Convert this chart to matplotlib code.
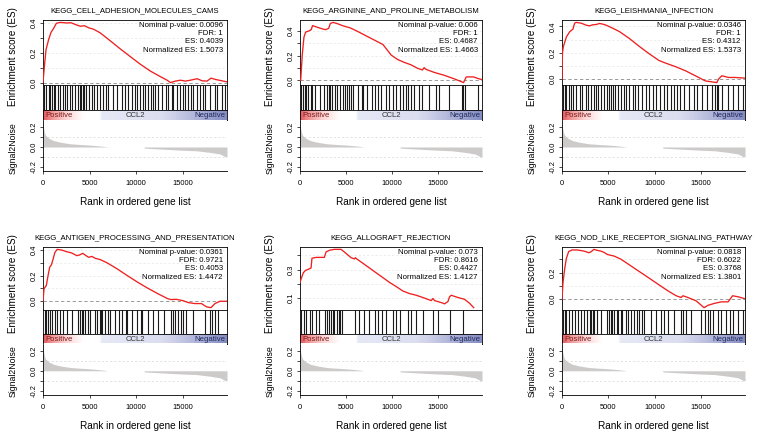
import numpy as np
import matplotlib
matplotlib.use("Agg")
from matplotlib import pyplot as plt
from matplotlib.colors import LinearSegmentedColormap

plt.rcParams['font.family'] = ['Liberation Sans', 'DejaVu Sans']

# ---- data ----
n_genes = 19750

titles = ["KEGG_CELL_ADHESION_MOLECULES_CAMS",
          "KEGG_ARGININE_AND_PROLINE_METABOLISM",
          "KEGG_LEISHMANIA_INFECTION",
          "KEGG_ANTIGEN_PROCESSING_AND_PRESENTATION",
          "KEGG_ALLOGRAFT_REJECTION",
          "KEGG_NOD_LIKE_RECEPTOR_SIGNALING_PATHWAY"]
pvals = ["0.0096", "0.006", "0.0346", "0.0361", "0.073", "0.0818"]
fdrs = ["1", "1", "1", "0.9721", "0.8616", "0.6022"]
es_vals = ["0.4039", "0.4687", "0.4312", "0.4053", "0.4427", "0.3768"]
nes_vals = ["1.5073", "1.4663", "1.5373", "1.4472", "1.4127", "1.3801"]

# running enrichment score (rank, ES)
es_rank_1 = [0, 143, 322, 610, 860, 1150, 1430, 1860, 2580, 3000, 3470, 4010, 4440, 4900, 5440, 6160,
             7230, 8300, 9380, 10450, 11530, 12600, 13320, 13680, 14210, 14750, 15290, 15820, 16540,
             17080, 17610, 18040, 18510, 19050, 19750]
es_score_1 = [0, 0.105, 0.22, 0.29, 0.337, 0.365, 0.398, 0.404, 0.40, 0.402, 0.39, 0.378, 0.382, 0.368,
              0.358, 0.333, 0.28, 0.226, 0.174, 0.123, 0.077, 0.04, 0.016, 0.0, 0.01, 0.016, 0.01, 0.016,
              0.026, 0.012, 0.01, 0.03, 0.021, 0.014, 0.005]

es_rank_2 = [0, 75, 250, 430, 610, 970, 1220, 1360, 1860, 2400, 2750, 3110, 3290, 3580, 4000, 4710, 5430,
             6140, 7570, 9000, 9900, 10610, 11330, 12040, 12750, 13290, 13470, 13650, 14540, 15610, 16680,
             17750, 18040, 18820, 19360, 19750]
es_score_2 = [0, 0.0, 0.21, 0.35, 0.39, 0.40, 0.41, 0.443, 0.43, 0.417, 0.41, 0.42, 0.46, 0.4687, 0.46, 0.44,
              0.425, 0.40, 0.345, 0.29, 0.204, 0.168, 0.145, 0.126, 0.098, 0.084, 0.103, 0.09, 0.065, 0.042,
              0.014, -0.018, 0.028, 0.028, 0.014, 0.006]

es_rank_3 = [0, 50, 140, 470, 830, 1180, 1360, 1540, 2080, 2610, 2970, 3330, 3690, 4040, 4400, 4760, 5470,
             6180, 7250, 8320, 9390, 10460, 11180, 12250, 13320, 14390, 15460, 16710, 16890, 17250, 17960,
             18670, 19750]
es_score_3 = [0, 0.2, 0.245, 0.32, 0.36, 0.38, 0.425, 0.431, 0.425, 0.41, 0.405, 0.413, 0.415, 0.423, 0.418,
              0.41, 0.387, 0.362, 0.31, 0.25, 0.194, 0.142, 0.122, 0.095, 0.064, 0.026, -0.013, -0.026, 0.0,
              0.026, 0.013, 0.013, 0.008]

es_rank_4 = [0, 110, 360, 540, 720, 900, 1090, 1270, 1520, 1990, 2530, 3080, 3620, 3910, 4270, 4520, 4890,
             5250, 5610, 6150, 6880, 7960, 9050, 10130, 11220, 12300, 13390, 13760, 14300, 15020, 15570,
             16290, 17010, 17560, 18030, 18460, 19000, 19750]
es_score_4 = [0, 0.098, 0.124, 0.2, 0.266, 0.284, 0.33, 0.38, 0.4053, 0.40, 0.387, 0.377, 0.356, 0.361, 0.374,
              0.361, 0.343, 0.35, 0.335, 0.325, 0.3, 0.253, 0.2, 0.15, 0.103, 0.06, 0.02, 0.013, 0.015, 0.005,
              -0.01, -0.018, -0.018, -0.044, -0.05, -0.018, 0.0, 0.0]

es_rank_5 = [0, 110, 360, 580, 1010, 1200, 1300, 1740, 2100, 2640, 2830, 3190, 3730, 4280, 4460, 5000, 5540,
             5910, 6010, 6160, 6810, 7540, 8260, 8990, 9710, 10430, 11160, 11880, 12610, 13330, 14240, 14420,
             14600, 15330, 15690, 16050, 16230, 16410, 17140, 17860, 18400, 18850]
es_score_5 = [0.209, 0.232, 0.277, 0.293, 0.305, 0.311, 0.38, 0.386, 0.386, 0.386, 0.425, 0.436, 0.443, 0.4427,
              0.443, 0.414, 0.384, 0.375, 0.384, 0.375, 0.345, 0.311, 0.277, 0.243, 0.209, 0.18, 0.148, 0.13,
              0.118, 0.102, 0.08, 0.095, 0.08, 0.066, 0.057, 0.073, 0.107, 0.118, 0.102, 0.089, 0.061, 0.03]

es_rank_6 = [0, 110, 290, 470, 720, 1090, 1630, 2350, 2900, 3150, 3440, 3800, 4170, 4530, 4890, 5620, 6340,
             7070, 8150, 9240, 10330, 11410, 12320, 12860, 13040, 13590, 14490, 15330, 15760, 16480, 17210,
             17930, 18410, 19020, 19670]
es_score_6 = [0, 0.128, 0.23, 0.308, 0.36, 0.372, 0.372, 0.364, 0.351, 0.359, 0.3768, 0.369, 0.364, 0.354,
              0.338, 0.326, 0.303, 0.269, 0.218, 0.167, 0.115, 0.064, 0.026, 0.013, 0.026, 0.013, -0.013,
              -0.064, -0.046, -0.031, -0.02, -0.02, 0.026, 0.018, 0.005]

# positions of the gene-set members in the ranked list
hits_1 = [64, 354, 600, 782, 964, 1135, 1320, 1560, 1850, 2140, 2390, 2570, 2850, 3110, 3460, 3810, 4000,
          4120, 4240, 4360, 4640, 4890, 5250, 5500, 5790, 6140, 6430, 6780, 7030, 7500, 7930, 8460, 8820,
          9170, 9530, 9890, 10130, 10420, 10710, 10960, 11310, 11570, 11780, 12030, 12380, 12750, 13210,
          13450, 13820, 13990, 14350, 14710, 15060, 15240, 15600, 15850, 16130, 16500, 16850, 17140, 17390,
          17920, 18460, 18710, 19180, 19550]
hits_2 = [75, 364, 500, 685, 857, 1220, 1330, 1680, 2220, 2570, 2930, 3150, 3290, 3470, 3820, 4000, 4360,
          4710, 4900, 5070, 5350, 5540, 5790, 6320, 6680, 6850, 7280, 7760, 8110, 8460, 8830, 9360, 9710,
          10070, 10420, 10850, 11140, 11500, 11670, 12030, 12390, 12920, 13280, 14000, 14710, 15070, 16140,
          17560, 17740, 17920, 19350]
hits_3 = [111, 290, 468, 754, 1000, 1180, 1540, 1900, 2180, 2540, 2790, 3150, 3500, 3680, 3860, 4220, 4570,
          4820, 5040, 5290, 5540, 5750, 6000, 6360, 6710, 6960, 7250, 7610, 7890, 8250, 8610, 9040, 9390,
          9820, 10180, 10540, 11000, 11360, 11710, 12070, 12430, 12780, 13140, 13680, 14210, 14570, 15100,
          15640, 16180, 16530, 16710, 16890, 17250, 17960, 18500, 19030, 19570]
hits_4 = [181, 362, 543, 724, 1010, 1270, 1450, 1810, 2170, 2530, 3080, 3800, 3980, 4160, 4340, 4530, 4780,
          5000, 5610, 5790, 6150, 6230, 6340, 6700, 6950, 7240, 7780, 8150, 8510, 8870, 9050, 9590, 10140,
          10500, 10680, 11220, 11760, 12310, 13030, 13750, 13940, 14120, 14480, 14840, 15020, 15380, 16110,
          17380, 17920, 18100, 18460, 18820]
hits_5 = [109, 471, 652, 1120, 1300, 1740, 2100, 2750, 2900, 3190, 3370, 3550, 3730, 3990, 4200, 4350, 4570,
          6010, 6450, 6990, 7540, 8190, 8440, 8910, 9350, 10070, 10430, 10800, 11700, 12060, 12610, 13330,
          14420, 14960, 16230, 17680]
hits_6 = [109, 290, 471, 725, 1090, 1450, 1700, 2070, 2350, 2720, 3010, 3150, 3300, 3440, 3800, 4170, 4890,
          5070, 5250, 5430, 5620, 5910, 6050, 6340, 6520, 6880, 7140, 7430, 7790, 8080, 8330, 8590, 8880,
          9600, 10140, 10690, 11050, 11410, 12140, 12860, 13040, 13410, 13950, 15030, 15400, 15760, 15940,
          16300, 16840, 17210, 17750, 18110, 18480, 19020, 19560]

# ranked list metric (same list for every panel)
sig_rank = [0, 150, 250, 600, 1140, 1850, 2930, 4000, 5070, 6140, 6780, 6900, 10800, 10930, 12930, 14710,
            16500, 17930, 19000, 19530, 19750]
sig_value = [0.22, 0.15, 0.12, 0.089, 0.064, 0.048, 0.032, 0.025, 0.019, 0.01, 0.003, 0.0, 0.0, -0.012,
             -0.022, -0.031, -0.038, -0.054, -0.07, -0.095, -0.1]

es_ranks = [es_rank_1, es_rank_2, es_rank_3, es_rank_4, es_rank_5, es_rank_6]
es_scores = [es_score_1, es_score_2, es_score_3, es_score_4, es_score_5, es_score_6]
hits_all = [hits_1, hits_2, hits_3, hits_4, hits_5, hits_6]

# ---- layout (pixels) ----
W, H = 760, 436
fig = plt.figure(figsize=(W / 100, H / 100), dpi=100)

def box(l, t, r, b):
    return [l / W, 1 - b / H, (r - l) / W, (b - t) / H]

cols = [(43, 227), (300, 482), (562, 745)]
rows = [(20, 85, 110, 120, 171), (247, 310, 334, 343.5, 395)]

cb_cmap = LinearSegmentedColormap.from_list("posneg", [
    (0.0, (0.88, 0.36, 0.38)), (0.05, (0.95, 0.60, 0.60)), (0.12, (0.99, 0.82, 0.82)),
    (0.19, (1, 0.95, 0.95)), (0.22, (1, 1, 1)), (0.305, (1, 1, 1)), (0.32, (0.90, 0.91, 0.96)),
    (0.64, (0.86, 0.87, 0.94)), (0.72, (0.80, 0.81, 0.91)), (1.0, (0.52, 0.55, 0.76))])

def tick_setup(ax, lo, hi):
    k0 = int(np.ceil(lo * 10 - 1e-9))
    k1 = int(np.floor(hi * 10 + 1e-9))
    ticks = [k / 10 for k in range(k0, k1 + 1)]
    labels = ["%.1f" % t if i % 2 == 0 else "" for i, t in enumerate(ticks)]
    ax.set_yticks(ticks)
    ax.set_yticklabels(labels, rotation=90, va='center', fontsize=5.4)
    return ticks

for i in range(6):
    l, r = cols[i % 3]
    t0, t1, t2, t3, t4 = rows[i // 3]
    xs, ys = es_ranks[i], es_scores[i]

    # enrichment score
    ax = fig.add_axes(box(l, t0, r, t1))
    ymin, ymax = min(ys), max(ys)
    pad = 0.04 * (ymax - ymin)
    ax.set_ylim(ymin - pad, ymax + pad)
    ax.set_xlim(0, n_genes)
    ticks = tick_setup(ax, ymin - pad, ymax + pad)
    for tk in ticks:
        if abs(tk) > 1e-9:
            ax.axhline(tk, color='#e4e4e4', lw=0.5, ls=(0, (3, 3)), zorder=0)
    ax.axhline(0, color='#8a8a8a', lw=0.6, ls=(0, (4, 3)), zorder=1)
    ax.plot(xs, ys, color='#ee2020', lw=0.95, zorder=3)
    ax.set_xticks([])
    ax.tick_params(axis='y', length=2.3, width=0.5, pad=1.5)
    for s in ax.spines.values():
        s.set_linewidth(0.6)
    ax.text(0.977, 0.965, "Nominal p-value: %s\nFDR: %s\nES: %s\nNormalized ES: %s"
            % (pvals[i], fdrs[i], es_vals[i], nes_vals[i]),
            transform=ax.transAxes, ha='right', va='top', fontsize=5.6, linespacing=1.22)

    # hits
    axh = fig.add_axes(box(l, t1, r, t2))
    axh.vlines(hits_all[i], 0, 1, color='#1a1a1a', lw=0.8)
    axh.set_xlim(0, n_genes)
    axh.set_ylim(0, 1)
    axh.set_xticks([])
    axh.set_yticks([])
    for s in axh.spines.values():
        s.set_linewidth(0.6)

    # colour band
    axc = fig.add_axes(box(l, t2, r, t3))
    axc.imshow(np.linspace(0, 1, 400).reshape(1, -1), cmap=cb_cmap, aspect='auto',
               extent=[0, n_genes, 0, 1])
    axc.set_xlim(0, n_genes)
    axc.set_xticks([])
    axc.set_yticks([])
    for s in axc.spines.values():
        s.set_linewidth(0.6)
    axc.text(0.012, 0.45, "Positive", transform=axc.transAxes, ha='left', va='center',
             fontsize=5.6, color='#7a1c1c')
    axc.text(0.5, 0.45, "CCL2", transform=axc.transAxes, ha='center', va='center',
             fontsize=5.6, color='#333333')
    axc.text(0.99, 0.45, "Negative", transform=axc.transAxes, ha='right', va='center',
             fontsize=5.6, color='#1e2a5c')

    # ranked metric
    axs = fig.add_axes(box(l, t3, r, t4))
    axs.fill_between(sig_rank, 0, sig_value, color='#cdcaca', lw=0)
    axs.set_xlim(0, n_genes)
    axs.set_ylim(-0.24, 0.27)
    tick_setup(axs, -0.24, 0.27)
    for g in (-0.1, 0.1):
        axs.axhline(g, color='#d6d6d6', lw=0.5, ls=(0, (3, 3)), zorder=0)
    axs.set_xticks([0, 5000, 10000, 15000])
    axs.set_xticklabels(["0", "5000", "10000", "15000"], fontsize=5.4)
    axs.tick_params(axis='x', length=2.3, width=0.5, pad=4.2)
    axs.tick_params(axis='y', length=2.3, width=0.5, pad=1.5)
    axs.spines['top'].set_visible(False)
    axs.spines['right'].set_visible(False)
    for s in ('left', 'bottom'):
        axs.spines[s].set_linewidth(0.6)

    # labels
    cx = (l + r) / 2
    fig.text(cx / W, 1 - (t0 - 9) / H, titles[i], ha='center', va='center', fontsize=5.6)
    fig.text((l - 30) / W, 1 - (t0 + 36.5) / H, "Enrichment score (ES)", rotation=90,
             ha='center', va='center', fontsize=7.1)
    fig.text((l - 30) / W, 1 - (t3 + 28) / H, "Signal2Noise", rotation=90,
             ha='center', va='center', fontsize=6.3)
    fig.text(cx / W, 1 - (t4 + 30.5) / H, "Rank in ordered gene list", ha='center', va='center',
             fontsize=7.2)

fig.savefig("out.png", dpi=100)
